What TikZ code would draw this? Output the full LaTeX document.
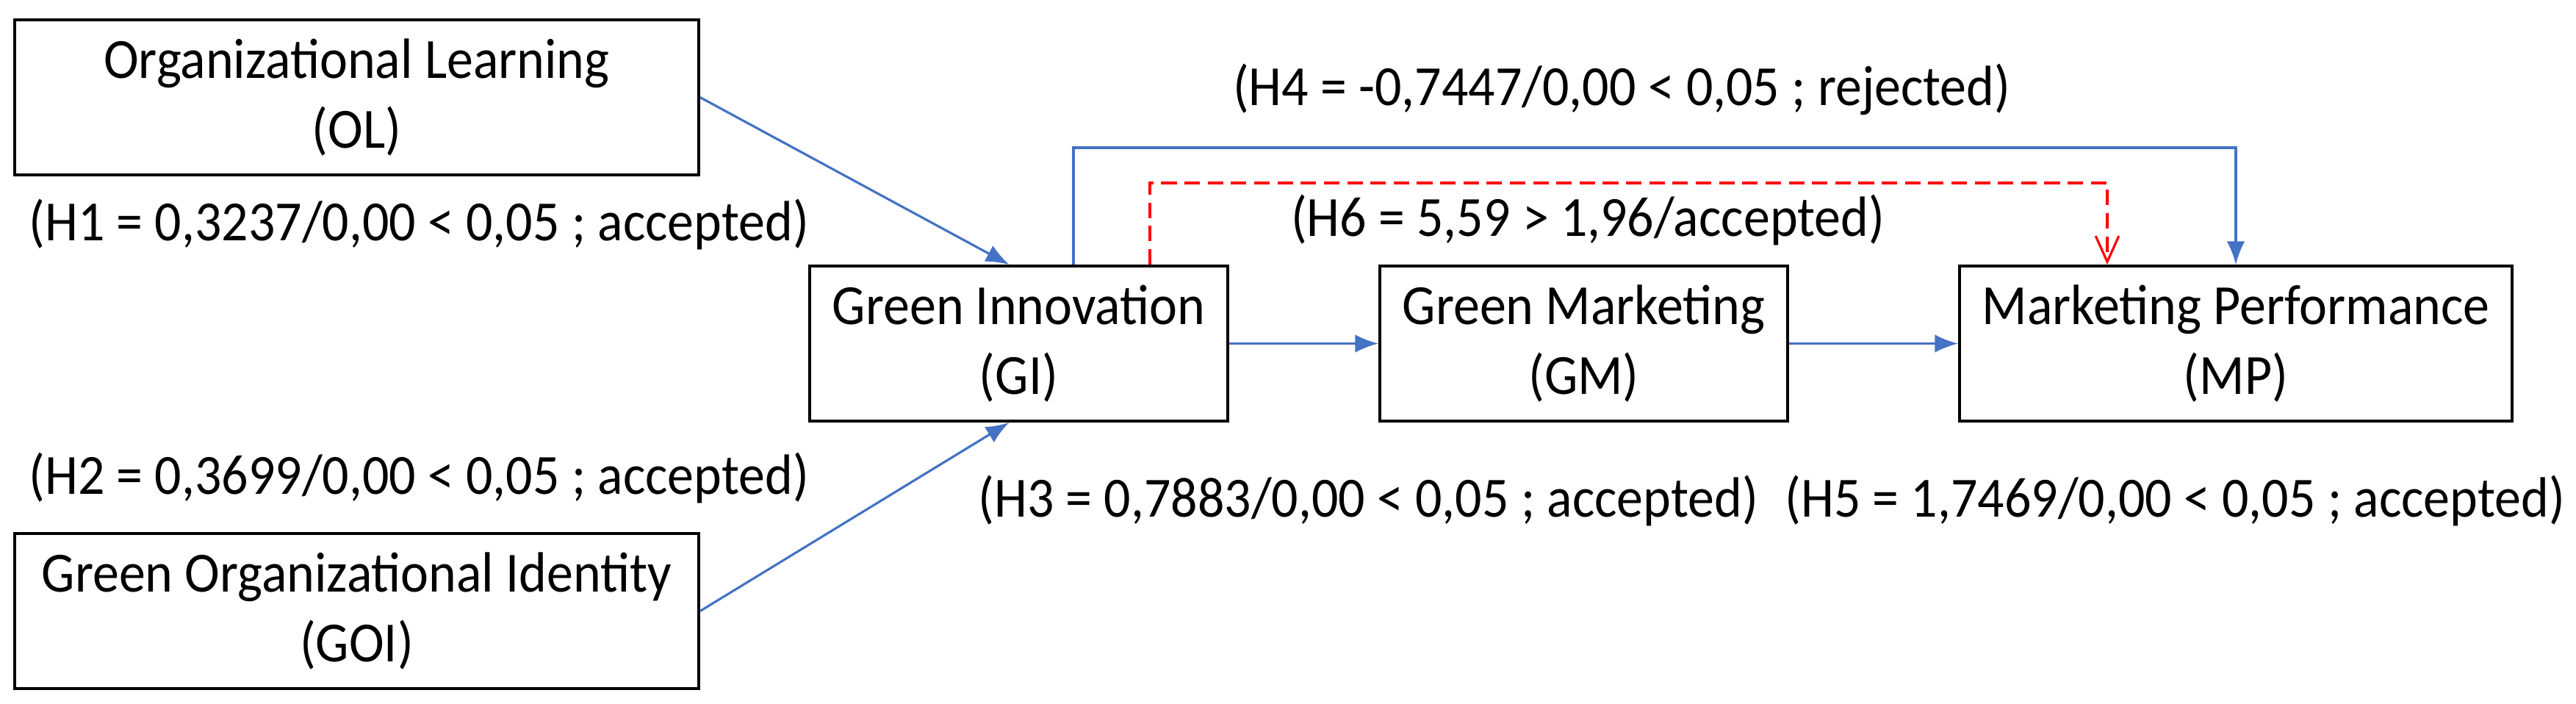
\documentclass[tikz,border=0pt]{standalone}
\usepackage{fontspec}
\setmainfont[FakeStretch=0.93]{Carlito}
\usetikzlibrary{arrows.meta,calc}
\definecolor{lblue}{HTML}{4472C4}
\begin{document}
\begin{tikzpicture}[x=1cm,y=1cm,
  box/.style={draw, line width=1.1pt, align=center, minimum height=2.11cm, inner sep=0pt, font=\fontsize{22}{27}\selectfont},
  lab/.style={font=\fontsize{22}{27}\selectfont, inner sep=0pt},
  bl/.style={draw=lblue, line width=0.9pt, -{Latex[length=9pt,width=7pt]}},
  rd/.style={draw=red, line width=0.9pt, dashed, dash pattern=on 6pt off 3pt, -{Straight Barb[length=10pt,width=9pt]}}]
\useasboundingbox (0,0) rectangle (35.06,-9.57);
\node[box, minimum width=9.31cm] (OL) at (4.855,-1.325) {Organizational Learning\\(OL)};
\node[box, minimum width=9.31cm] (GOI) at (4.855,-8.315) {Green Organizational Identity\\(GOI)};
\node[box, minimum width=5.69cm] (GI) at (13.865,-4.675) {Green Innovation\\(GI)};
\node[box, minimum width=5.55cm] (GM) at (21.555,-4.675) {Green Marketing\\(GM)};
\node[box, minimum width=7.52cm] (MP) at (30.43,-4.675) {Marketing Performance\\(MP)};
\node[lab] (h1) at (5.7,-3.05) {(H1 = 0,3237/0,00 < 0,05 ; accepted)};
\node[lab] (h2) at (5.7,-6.5) {(H2 = 0,3699/0,00 < 0,05 ; accepted)};
\node[lab] (h3) at (18.62,-6.81) {(H3 = 0,7883/0,00 < 0,05 ; accepted)};
\node[lab] (h5) at (29.6,-6.81) {(H5 = 1,7469/0,00 < 0,05 ; accepted)};
\node[lab] (h4) at (22.07,-1.22) {(H4 = -0,7447/0,00 < 0,05 ; rejected)};
\node[lab] (h6) at (21.61,-2.99) {(H6 = 5,59 > 1,96/accepted)};
\coordinate (git) at ($(GI.north)+(-0.13,0)$);
\coordinate (gib) at ($(GI.south)+(-0.13,0)$);
\draw[bl] (OL.east) -- (git);
\draw[bl] (GOI.east) -- (gib);
\draw[bl] (GI.east) -- (GM.west);
\draw[bl] (GM.east) -- (MP.west);
\coordinate (a4) at ($(GI.north)+(0.745,0)$);
\draw[bl] (a4) |- (MP.north |- 0,-2.01) -- (MP.north);
\coordinate (a6) at ($(GI.north)+(1.785,0)$);
\coordinate (b6) at ($(MP.north)+(-1.75,0)$);
\draw[rd] (a6) |- (b6 |- 0,-2.49) -- (b6);
\end{tikzpicture}
\end{document}
